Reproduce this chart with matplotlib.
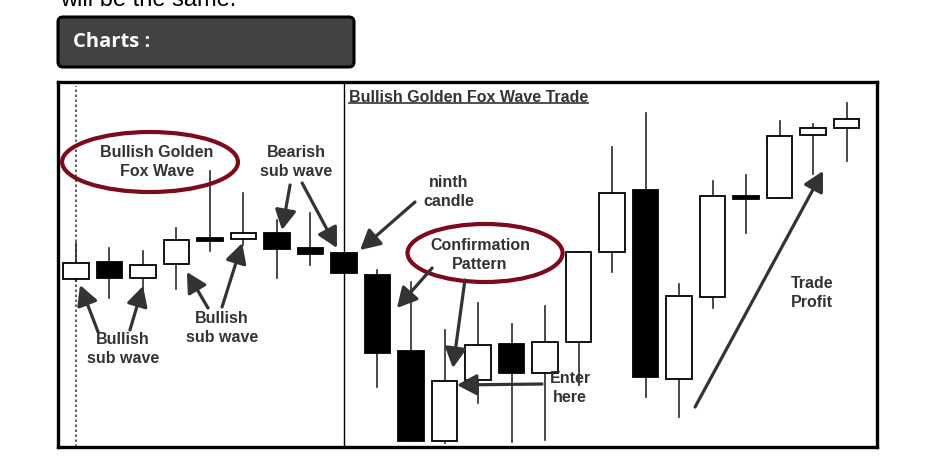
import matplotlib
matplotlib.use("Agg")
import matplotlib.pyplot as plt
import numpy as np
from matplotlib.patches import Rectangle, Ellipse, FancyBboxPatch, FancyArrowPatch

# candle data (arbitrary price units)
opens = [168, 185, 169, 183, 209, 208, 214, 199, 194, 172, 96, 6,
         67, 103, 74, 105, 195, 257, 68, 150, 251, 249, 312, 319]
highs = [204, 199, 196, 219, 276, 254, 227, 234, 194, 177, 165, 117,
         144, 123, 141, 195, 300, 334, 163, 266, 272, 326, 323, 344]
lows = [166, 149, 155, 158, 196, 202, 169, 182, 174, 60, 6, 4,
        44, 5, 7, 62, 175, 50, 30, 139, 214, 249, 273, 286]
closes = [184, 169, 182, 207, 206, 214, 198, 193, 174, 94, 6, 66,
          102, 74, 105, 195, 254, 70, 151, 251, 248, 311, 319, 328]

# annotations: (text, x, y)
labels = [
    ("Bullish Golden\nFox Wave", 2.42, 285),
    ("Bearish\nsub wave", 6.57, 285),
    ("ninth\ncandle", 11.13, 255),
    ("Confirmation\nPattern", 12.06, 192),
    ("Enter\nhere", 14.75, 59),
    ("Trade\nProfit", 21.97, 154),
    ("Bullish\nsub wave", 1.40, 98),
    ("Bullish\nsub wave", 4.36, 119),
]
arrows = [
    ((6.39, 262), (6.15, 217)),
    ((6.75, 264), (7.79, 199)),
    ((10.12, 245), (8.48, 197)),
    ((10.63, 179), (9.58, 139)),
    ((11.61, 167), (11.25, 79)),
    ((13.91, 63), (11.37, 62)),
    ((18.48, 40), (22.3, 276)),
    ((0.66, 115), (0.12, 162)),
    ((1.61, 117), (2.0, 161)),
    ((3.94, 139), (3.31, 175)),
    ((4.36, 140), (4.96, 204)),
]
ellipses = [((2.21, 285), 5.25, 60), ((12.21, 194), 4.63, 58)]

W, H = 927, 461
fig = plt.figure(figsize=(W / 100, H / 100), dpi=100)
fig.patch.set_facecolor("white")

# page background in pixel coords
bg = fig.add_axes([0, 0, 1, 1])
bg.set_xlim(0, W)
bg.set_ylim(H, 0)
bg.axis("off")
bg.text(60, 6, "will be the same.", fontsize=17, family="Liberation Sans",
        color="black", va="baseline", ha="left")
hdr = FancyBboxPatch((58, 17), 296, 50, boxstyle="round,pad=0,rounding_size=5",
                     facecolor="#424242", edgecolor="black", lw=2.2)
bg.add_patch(hdr)
bg.text(73, 42, "Charts :", fontsize=14.5, family="Open Sans", weight="bold",
        color="white", va="center", ha="left")

# chart
ax = fig.add_axes([58 / W, (H - 447) / H, (877 - 58) / W, (447 - 82) / H])
ax.set_xlim(-0.537, 23.91)
ax.set_ylim(0, 365)
ax.set_xticks([])
ax.set_yticks([])
for s in ax.spines.values():
    s.set_linewidth(2.4)
    s.set_color("black")

ax.axvline(0, color="#666666", lw=1.5, ls=(0, (1.2, 1.2)), ymax=0.99, zorder=1)
ax.axvline(8, color="black", lw=1.0, zorder=1)

bw = 0.75
for i in range(len(opens)):
    o, h, l, c = opens[i], highs[i], lows[i], closes[i]
    ax.plot([i, i], [l, h], color="#2a2a2a", lw=1.2, zorder=2)
    fc = "white" if c >= o else "black"
    ax.add_patch(Rectangle((i - bw / 2, min(o, c)), bw, max(abs(c - o), 2.5),
                           facecolor=fc, edgecolor="black", lw=1.3, zorder=3))

for (cx, cy), ew, eh in ellipses:
    ax.add_patch(Ellipse((cx, cy), ew, eh, fill=False, edgecolor="#7d0a1c",
                         lw=3, zorder=4))

for txt, x, y in labels:
    ax.text(x, y, txt, ha="center", va="center", fontsize=11.5,
            family="Liberation Sans", weight="bold", color="#333333",
            linespacing=1.3, zorder=5)

for (x0, y0), (x1, y1) in arrows:
    ax.add_patch(FancyArrowPatch((x0, y0), (x1, y1),
                                 arrowstyle="-|>,head_length=0.6,head_width=0.32",
                                 mutation_scale=20, color="#333333", lw=2.3,
                                 shrinkA=0, shrinkB=0, zorder=6))

title = ax.text(8.15, 350, "Bullish Golden Fox Wave Trade", ha="left",
                va="center", fontsize=11.5, family="Liberation Sans",
                weight="bold", color="#333333", zorder=5)
fig.canvas.draw()
bb = title.get_window_extent().transformed(ax.transData.inverted())
ax.plot([bb.x0, bb.x1], [bb.y0 + 1, bb.y0 + 1], color="#333333", lw=1.2, zorder=5)

fig.savefig("out.png", dpi=100)
